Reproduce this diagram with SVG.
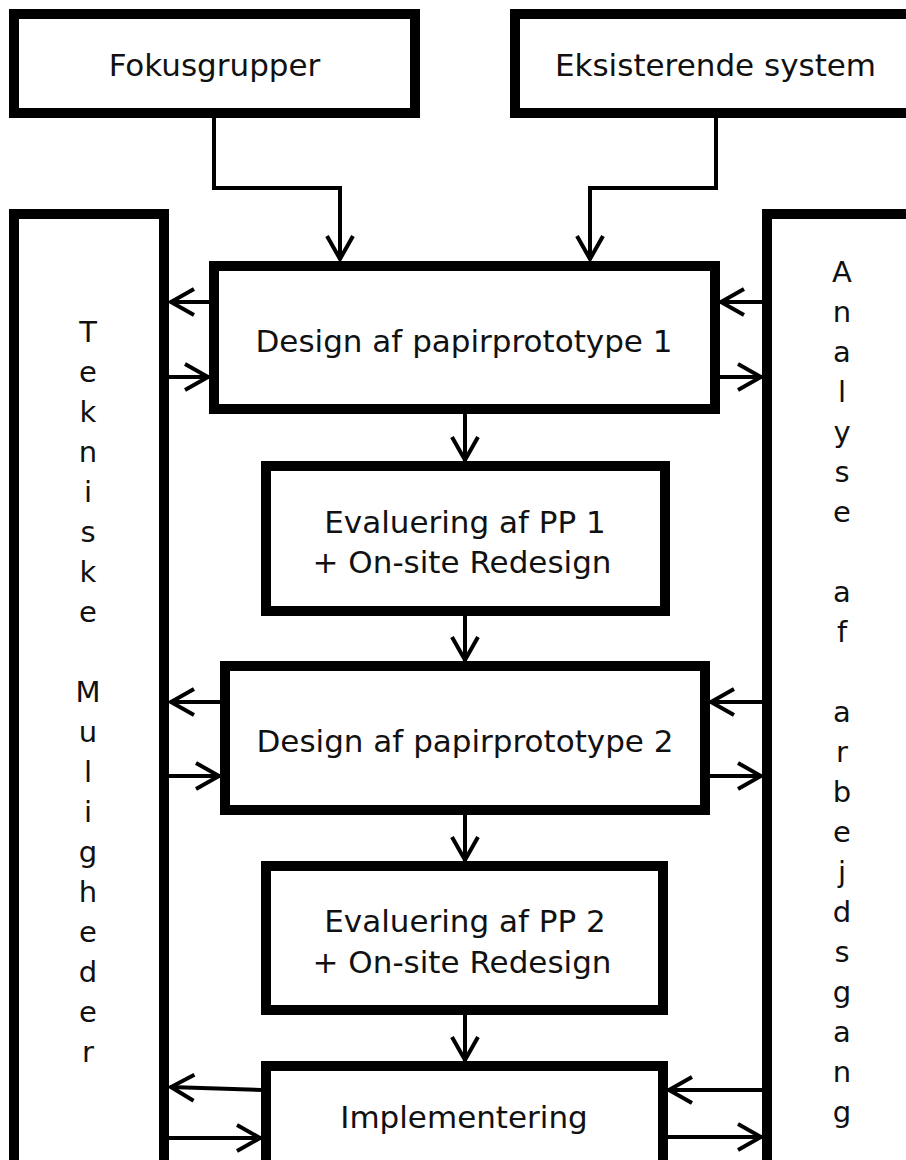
<svg xmlns="http://www.w3.org/2000/svg" width="906" height="1160" viewBox="0 0 906 1160">
<style>
.box{fill:#fff;stroke:#000;stroke-width:10}
.lbl{font-family:"DejaVu Sans",Verdana,sans-serif;font-size:31px;fill:#111;text-anchor:middle}
.vl{font-family:"DejaVu Sans",Verdana,sans-serif;font-size:29px;fill:#111;text-anchor:middle}
.c{fill:none;stroke:#000;stroke-width:4;marker-end:url(#ah)}
</style>
<defs>
<marker id="ah" markerUnits="userSpaceOnUse" viewBox="-30 -18 34 36" markerWidth="34" markerHeight="36" refX="0" refY="0" orient="auto" overflow="visible">
<path d="M -24 -13 L -1 0 L -24 13" fill="none" stroke="#000" stroke-width="4"/>
</marker>
</defs>
<rect width="906" height="1160" fill="#fff"/>
<g id="fokusgrupper">
<rect class="box" x="14" y="14" width="401" height="99"/>
<text class="lbl" x="214.5" y="76">Fokusgrupper</text>
</g>
<g id="eksisterende">
<rect class="box" x="515" y="14" width="401" height="99"/>
<text class="lbl" x="715.5" y="76">Eksisterende system</text>
</g>
<g id="tekniske">
<rect class="box" x="14" y="214" width="150" height="1000"/>
<text class="vl"><tspan x="88" y="342">T</tspan><tspan x="88" y="382">e</tspan><tspan x="88" y="422">k</tspan><tspan x="88" y="462">n</tspan><tspan x="88" y="502">i</tspan><tspan x="88" y="542">s</tspan><tspan x="88" y="582">k</tspan><tspan x="88" y="622">e</tspan><tspan x="88" y="702">M</tspan><tspan x="88" y="742">u</tspan><tspan x="88" y="782">l</tspan><tspan x="88" y="822">i</tspan><tspan x="88" y="862">g</tspan><tspan x="88" y="902">h</tspan><tspan x="88" y="942">e</tspan><tspan x="88" y="982">d</tspan><tspan x="88" y="1022">e</tspan><tspan x="88" y="1062">r</tspan></text>
</g>
<g id="analyse">
<rect class="box" x="767" y="214" width="150" height="1000"/>
<text class="vl"><tspan x="842" y="282">A</tspan><tspan x="842" y="322">n</tspan><tspan x="842" y="362">a</tspan><tspan x="842" y="402">l</tspan><tspan x="842" y="442">y</tspan><tspan x="842" y="482">s</tspan><tspan x="842" y="522">e</tspan><tspan x="842" y="602">a</tspan><tspan x="842" y="642">f</tspan><tspan x="842" y="722">a</tspan><tspan x="842" y="762">r</tspan><tspan x="842" y="802">b</tspan><tspan x="842" y="842">e</tspan><tspan x="842" y="882">j</tspan><tspan x="842" y="922">d</tspan><tspan x="842" y="962">s</tspan><tspan x="842" y="1002">g</tspan><tspan x="842" y="1042">a</tspan><tspan x="842" y="1082">n</tspan><tspan x="842" y="1122">g</tspan></text>
</g>
<g id="design1">
<rect class="box" x="214" y="266" width="501" height="143"/>
<text class="lbl" x="464" y="352">Design af papirprototype 1</text>
</g>
<g id="eval1">
<rect class="box" x="266" y="466" width="399" height="145"/>
<text class="lbl" x="465" y="533">Evaluering af PP 1</text>
<text class="lbl" x="462" y="573">+ On-site Redesign</text>
</g>
<g id="design2">
<rect class="box" x="225" y="666" width="480" height="144"/>
<text class="lbl" x="465" y="752">Design af papirprototype 2</text>
</g>
<g id="eval2">
<rect class="box" x="266" y="866" width="397" height="144"/>
<text class="lbl" x="465" y="932">Evaluering af PP 2</text>
<text class="lbl" x="462" y="973">+ On-site Redesign</text>
</g>
<g id="implementering">
<rect class="box" x="266" y="1066" width="397" height="200"/>
<text class="lbl" x="464" y="1128">Implementering</text>
</g>
<g id="connectors">
<path class="c" d="M 214 118 V 188 H 340 V 260"/>
<path class="c" d="M 716 118 V 188 H 590 V 260"/>
<path class="c" d="M 465 414 V 461"/>
<path class="c" d="M 465 616 V 661"/>
<path class="c" d="M 465 815 V 861"/>
<path class="c" d="M 465 1015 V 1061"/>
<path class="c" d="M 209 302 H 170"/>
<path class="c" d="M 169 377 H 209"/>
<path class="c" d="M 762 302 H 720"/>
<path class="c" d="M 720 377 H 762"/>
<path class="c" d="M 220 702 H 170"/>
<path class="c" d="M 169 776 H 220"/>
<path class="c" d="M 762 702 H 710"/>
<path class="c" d="M 710 776 H 762"/>
<path class="c" d="M 261 1090 L 170 1087"/>
<path class="c" d="M 169 1138 H 261"/>
<path class="c" d="M 762 1090 H 668"/>
<path class="c" d="M 668 1137 H 762"/>
</g>
</svg>
